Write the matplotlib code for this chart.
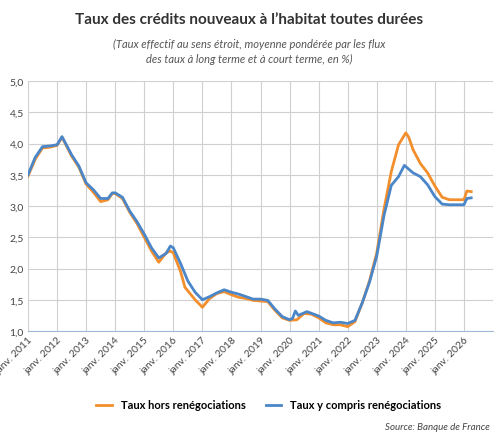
import matplotlib
matplotlib.use('Agg')
import matplotlib.pyplot as plt

plt.rcParams['font.family'] = ['Lato', 'DejaVu Sans']

# taux hors renégociations (orange)
t_hors = [2011.0, 2011.25, 2011.5, 2011.75, 2012.0, 2012.17, 2012.5, 2012.75, 2013.0, 2013.25,
          2013.5, 2013.75, 2013.9, 2014.0, 2014.25, 2014.5, 2014.75, 2015.0, 2015.25, 2015.5,
          2015.75, 2015.9, 2016.0, 2016.25, 2016.4, 2016.75, 2017.0, 2017.25, 2017.5, 2017.75,
          2018.0, 2018.25, 2018.5, 2018.75, 2019.0, 2019.25, 2019.5, 2019.75, 2020.0, 2020.25,
          2020.5, 2020.75, 2021.0, 2021.25, 2021.5, 2021.75, 2022.0, 2022.25, 2022.5, 2022.75,
          2023.0, 2023.25, 2023.5, 2023.75, 2024.0, 2024.1, 2024.25, 2024.5, 2024.75, 2025.0,
          2025.25, 2025.5, 2025.75, 2026.0, 2026.1, 2026.25]
v_hors = [3.48, 3.75, 3.93, 3.94, 3.97, 4.10, 3.80, 3.62, 3.35, 3.22,
          3.07, 3.10, 3.20, 3.20, 3.12, 2.90, 2.72, 2.50, 2.28, 2.10,
          2.25, 2.28, 2.25, 1.95, 1.70, 1.50, 1.38, 1.52, 1.60, 1.63,
          1.58, 1.54, 1.52, 1.49, 1.48, 1.47, 1.33, 1.21, 1.17, 1.18,
          1.28, 1.27, 1.21, 1.13, 1.10, 1.10, 1.07, 1.15, 1.45, 1.80,
          2.25, 2.95, 3.55, 3.98, 4.17, 4.10, 3.90, 3.68, 3.53, 3.32,
          3.14, 3.10, 3.10, 3.10, 3.24, 3.23]

# taux y compris renégociations (bleu)
t_yc = [2011.0, 2011.25, 2011.5, 2011.75, 2012.0, 2012.17, 2012.5, 2012.75, 2013.0, 2013.25,
        2013.5, 2013.75, 2013.9, 2014.0, 2014.25, 2014.5, 2014.75, 2015.0, 2015.25, 2015.5,
        2015.75, 2015.9, 2016.0, 2016.25, 2016.5, 2016.75, 2017.0, 2017.25, 2017.5, 2017.75,
        2018.0, 2018.25, 2018.5, 2018.75, 2019.0, 2019.25, 2019.5, 2019.75, 2020.0, 2020.1,
        2020.2, 2020.3, 2020.6, 2021.0, 2021.25, 2021.5, 2021.75, 2022.0, 2022.25, 2022.5,
        2022.75, 2023.0, 2023.25, 2023.5, 2023.75, 2023.95, 2024.25, 2024.5, 2024.75, 2025.0,
        2025.25, 2025.5, 2025.75, 2026.0, 2026.1, 2026.25]
v_yc = [3.50, 3.78, 3.95, 3.96, 3.98, 4.11, 3.82, 3.64, 3.37, 3.26,
        3.12, 3.12, 3.21, 3.21, 3.14, 2.92, 2.75, 2.55, 2.33, 2.17,
        2.24, 2.36, 2.33, 2.08, 1.80, 1.62, 1.50, 1.55, 1.61, 1.66,
        1.62, 1.59, 1.55, 1.51, 1.51, 1.49, 1.35, 1.23, 1.18, 1.20,
        1.32, 1.25, 1.31, 1.24, 1.17, 1.13, 1.14, 1.12, 1.17, 1.45,
        1.78, 2.20, 2.85, 3.33, 3.47, 3.65, 3.53, 3.47, 3.34, 3.15,
        3.03, 3.02, 3.02, 3.02, 3.12, 3.13]

years = list(range(2011, 2027))
tick_labels = ['janv. %d' % y for y in years]

fig = plt.figure(figsize=(4.98, 4.39), dpi=100)
ax = fig.add_axes([28 / 498, 1 - 332 / 439, 465 / 498, 250 / 439])

orange = '#f28e2b'
blue = '#4a86c8'
ax.plot(t_hors, v_hors, color=orange, lw=2, label='Taux hors renégociations')
ax.plot(t_yc, v_yc, color=blue, lw=2, label='Taux y compris renégociations')

ax.set_xlim(2011, 2027)
ax.set_ylim(1.0, 5.0)
ax.set_xticks(years)
ax.set_xticklabels(tick_labels, rotation=45, ha='right', rotation_mode='anchor', fontsize=7.5, color='#444444')
ax.set_yticks([1.0, 1.5, 2.0, 2.5, 3.0, 3.5, 4.0, 4.5, 5.0])
ax.set_yticklabels(['1,0', '1,5', '2,0', '2,5', '3,0', '3,5', '4,0', '4,5', '5,0'], fontsize=7.5, color='#444444')
ax.tick_params(length=0, pad=3)
ax.grid(True, color='#d0d0d0', lw=0.8)
for s in ['top', 'right', 'left']:
    ax.spines[s].set_visible(False)
ax.spines['bottom'].set_color('#9fb8d8')

fig.text(0.5, 1 - 20 / 439, "Taux des crédits nouveaux à l’habitat toutes durées",
         ha='center', va='center', fontsize=11, fontweight='bold', color='#333333')
fig.text(0.5, 1 - 52 / 439, "(Taux effectif au sens étroit, moyenne pondérée par les flux\ndes taux à long terme et à court terme, en %)",
         ha='center', va='center', fontsize=8, style='italic', color='#555555', linespacing=1.4)

fig.legend(loc='center', bbox_to_anchor=(0.54, 1 - 406 / 439), ncol=2, frameon=False,
           fontsize=8, prop={'weight': 'bold', 'size': 8}, handlelength=1.4, columnspacing=1.8)
fig.text(490 / 498, 1 - 428 / 439, 'Source: Banque de France', ha='right', va='center',
         fontsize=7, style='italic', color='#444444')

fig.savefig('out.png', dpi=100, facecolor='white')
